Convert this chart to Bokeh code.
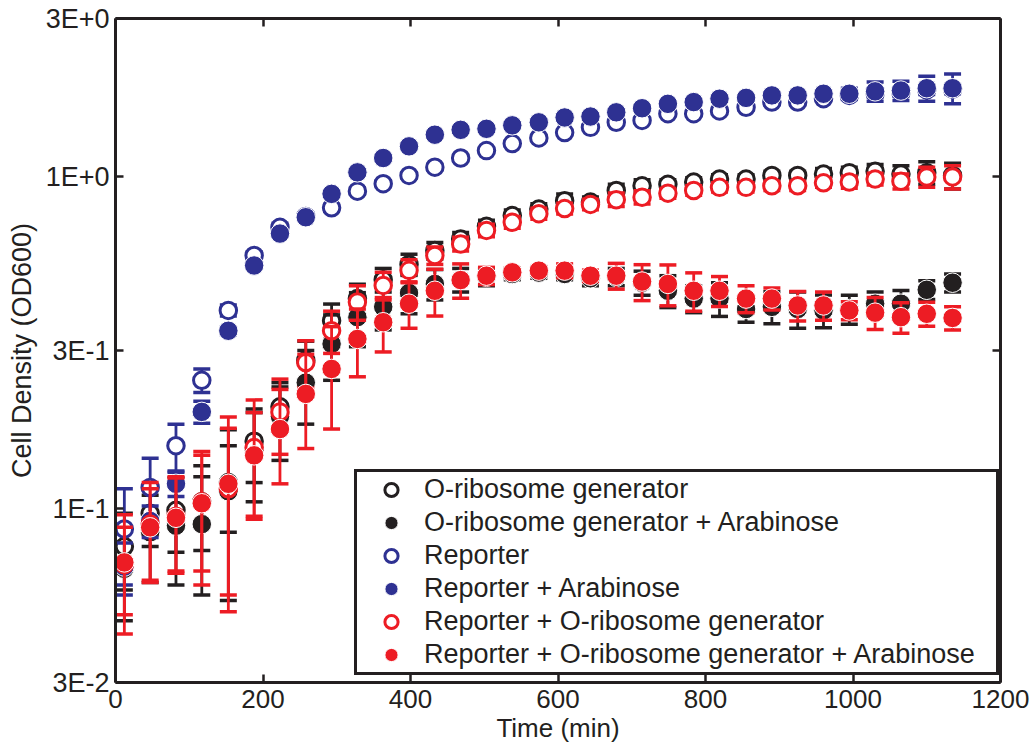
from bokeh.plotting import figure
from bokeh.models import (ColumnDataSource, FixedTicker, LinearAxis, LogAxis,
                          Legend, LegendItem, CustomJSTickFormatter)
from bokeh.embed import file_html
from bokeh.resources import INLINE

# Sampling times (min)
time_min = [12, 47, 82, 117, 153, 188, 223, 258, 293, 328, 363, 398, 433, 468, 503,
            538, 574, 609, 644, 679, 714, 749, 784, 819, 855, 890, 925, 960, 995,
            1030, 1065, 1100, 1135]

# O-ribosome generator
ogen_mean = [0.077, 0.097, 0.099, 0.105, 0.12, 0.16, 0.203, 0.28, 0.369, 0.43, 0.49,
             0.545, 0.60, 0.65, 0.71, 0.765, 0.80, 0.848, 0.84, 0.91, 0.94, 0.95,
             0.965, 0.985, 0.985, 1.01, 1.01, 1.02, 1.03, 1.04, 1.02, 1.03, 1.01]
ogen_sd = [0.02, 0.02, 0.025, 0.03, 0.035, 0.04, 0.03, 0.04, 0.045, 0.045, 0.04, 0.04,
           0.035, 0.03, 0.03, 0.03, 0.03, 0.04, 0.03, 0.04, 0.04, 0.03, 0.03, 0.03,
           0.03, 0.03, 0.03, 0.04, 0.04, 0.05, 0.06, 0.08, 0.09]

# O-ribosome generator + Arabinose
ogen_ara_mean = [0.066, 0.085, 0.089, 0.09, 0.113, 0.15, 0.19, 0.24, 0.314, 0.378, 0.406,
                 0.447, 0.476, 0.49, 0.50, 0.51, 0.515, 0.51, 0.495, 0.50, 0.48, 0.454,
                 0.43, 0.43, 0.40, 0.406, 0.40, 0.396, 0.40, 0.415, 0.415, 0.457, 0.48]
ogen_ara_sd = [0.02, 0.025, 0.03, 0.035, 0.06, 0.045, 0.05, 0.06, 0.07, 0.07, 0.06, 0.06,
               0.05, 0.04, 0.03, 0.02, 0.02, 0.02, 0.025, 0.03, 0.04, 0.05, 0.04, 0.05,
               0.035, 0.045, 0.05, 0.045, 0.04, 0.035, 0.04, 0.03, 0.03]

# Reporter
rep_mean = [0.087, 0.116, 0.155, 0.244, 0.396, 0.58, 0.705, 0.76, 0.807, 0.906, 0.954,
            1.01, 1.07, 1.14, 1.20, 1.26, 1.31, 1.36, 1.41, 1.46, 1.48, 1.55, 1.55,
            1.58, 1.62, 1.68, 1.68, 1.72, 1.76, 1.79, 1.80, 1.83, 1.84]
rep_sd = [0.028, 0.026, 0.025, 0.02, 0.015, 0.015, 0.02, 0.02, 0.02, 0.02, 0.02, 0.02,
          0.02, 0.02, 0.02, 0.02, 0.02, 0.02, 0.02, 0.02, 0.02, 0.02, 0.02, 0.02, 0.03,
          0.03, 0.03, 0.03, 0.04, 0.05, 0.05, 0.06, 0.06]

# Reporter + Arabinose
rep_ara_mean = [0.067, 0.092, 0.119, 0.196, 0.344, 0.541, 0.675, 0.756, 0.889, 1.032,
                1.14, 1.236, 1.34, 1.386, 1.396, 1.43, 1.46, 1.51, 1.52, 1.565, 1.61,
                1.66, 1.68, 1.72, 1.73, 1.76, 1.76, 1.78, 1.78, 1.81, 1.82, 1.85, 1.85]
rep_ara_sd = [0.012, 0.01, 0.01, 0.015, 0.01, 0.01, 0.01, 0.01, 0.02, 0.02, 0.02, 0.02,
              0.02, 0.02, 0.02, 0.02, 0.02, 0.02, 0.02, 0.02, 0.02, 0.02, 0.02, 0.02,
              0.03, 0.03, 0.03, 0.04, 0.07, 0.12, 0.12, 0.16, 0.19]

# Reporter + O-ribosome generator
rep_ogen_mean = [0.068, 0.09, 0.095, 0.105, 0.115, 0.153, 0.196, 0.276, 0.344, 0.42,
                 0.471, 0.523, 0.58, 0.628, 0.69, 0.73, 0.775, 0.803, 0.826, 0.854,
                 0.869, 0.893, 0.91, 0.93, 0.93, 0.94, 0.94, 0.96, 0.965, 0.985, 0.97,
                 1.0, 1.0]
rep_ogen_sd = [0.02, 0.03, 0.03, 0.04, 0.06, 0.06, 0.05, 0.045, 0.05, 0.05, 0.045, 0.04,
               0.035, 0.03, 0.03, 0.03, 0.03, 0.03, 0.03, 0.04, 0.04, 0.03, 0.03, 0.03,
               0.03, 0.03, 0.03, 0.03, 0.04, 0.04, 0.05, 0.07, 0.08]

# Reporter + O-ribosome generator + Arabinose
rep_ogen_ara_mean = [0.069, 0.088, 0.094, 0.104, 0.119, 0.145, 0.174, 0.222, 0.264,
                     0.325, 0.365, 0.415, 0.454, 0.489, 0.504, 0.516, 0.522, 0.522,
                     0.504, 0.504, 0.484, 0.476, 0.454, 0.454, 0.43, 0.43, 0.41, 0.41,
                     0.396, 0.39, 0.378, 0.387, 0.376]
rep_ogen_ara_sd = [0.027, 0.027, 0.03, 0.045, 0.07, 0.05, 0.055, 0.07, 0.09, 0.075,
                   0.068, 0.065, 0.073, 0.058, 0.03, 0.015, 0.015, 0.025, 0.02, 0.045,
                   0.06, 0.067, 0.06, 0.047, 0.04, 0.033, 0.042, 0.04, 0.025, 0.043,
                   0.04, 0.032, 0.03]

x_ticks = [0, 200, 400, 600, 800, 1000, 1200]
y_ticks = [0.03, 0.1, 0.3, 1, 3]
y_tick_labels = ["3E-2", "1E-1", "3E-1", "1E+0", "3E+0"]

BLACK = "#231f20"
BLUE = "#2e3192"
RED = "#ed1c24"
FONT = "Liberation Sans"

series = [
    ("O-ribosome generator", ogen_mean, ogen_sd, BLACK, False),
    ("O-ribosome generator + Arabinose", ogen_ara_mean, ogen_ara_sd, BLACK, True),
    ("Reporter", rep_mean, rep_sd, BLUE, False),
    ("Reporter + Arabinose", rep_ara_mean, rep_ara_sd, BLUE, True),
    ("Reporter + O-ribosome generator", rep_ogen_mean, rep_ogen_sd, RED, False),
    ("Reporter + O-ribosome generator + Arabinose", rep_ogen_ara_mean, rep_ogen_ara_sd, RED, True),
]

p = figure(width=1034, height=750, x_range=(0, 1200), y_range=(0.03, 3),
           y_axis_type="log", output_backend="svg", toolbar_location=None,
           min_border_left=115, min_border_right=34, min_border_top=18,
           min_border_bottom=68)
p.xgrid.visible = False
p.ygrid.visible = False
p.outline_line_color = None
p.background_fill_color = "white"

items = []
for label, mean, sd, color, filled in series:
    lo = [m - s for m, s in zip(mean, sd)]
    hi = [m + s for m, s in zip(mean, sd)]
    src = ColumnDataSource(dict(t=time_min, m=mean, lo=lo, hi=hi))
    p.segment(x0="t", y0="lo", x1="t", y1="hi", source=src,
              line_color=color, line_width=2.8)
    for end in ("lo", "hi"):
        p.scatter(x="t", y=end, source=src, marker="dash", size=17,
                  line_color=color, line_width=3.5)
    if filled:
        r = p.scatter(x="t", y="m", source=src, size=19.5, fill_color=color,
                      line_color="white", line_width=1)
    else:
        r = p.scatter(x="t", y="m", source=src, size=16.5, fill_color="white",
                      line_color=color, line_width=3)
    items.append(LegendItem(label=label, renderers=[r]))


def style_axis(ax, show_labels):
    ax.axis_line_width = 3
    ax.axis_line_color = BLACK
    ax.major_tick_in = 8
    ax.major_tick_out = 0
    ax.major_tick_line_width = 2.5
    ax.major_tick_line_color = BLACK
    ax.minor_tick_line_color = None
    ax.major_label_text_font = FONT
    ax.major_label_text_color = BLACK
    if show_labels:
        ax.major_label_text_font_size = "26px"
    else:
        ax.major_label_text_font_size = "0px"
        ax.major_label_standoff = 0


xax = p.xaxis[0]
xax.ticker = FixedTicker(ticks=x_ticks)
style_axis(xax, True)
xax.major_label_standoff = 7
xax.axis_label = "Time (min)"
xax.axis_label_standoff = 2

yax = p.yaxis[0]
yax.ticker = FixedTicker(ticks=y_ticks)
yax.formatter = CustomJSTickFormatter(
    args=dict(y_vals=y_ticks, y_names=y_tick_labels),
    code="""
    for (let i = 0; i < y_vals.length; i++) {
        if (Math.abs(y_vals[i] - tick) < 1e-9 * Math.max(1, y_vals[i])) return y_names[i];
    }
    return '';
""")
style_axis(yax, True)
yax.major_label_text_font_size = "27px"
yax.major_label_standoff = 6
yax.axis_label = "Cell Density (OD600)"
yax.axis_label_standoff = 6

for ax in (xax, yax):
    ax.axis_label_text_font = FONT
    ax.axis_label_text_font_style = "normal"
    ax.axis_label_text_color = BLACK
xax.axis_label_text_font_size = "26px"
yax.axis_label_text_font_size = "27px"

blank = "return '';"
top = LinearAxis(ticker=FixedTicker(ticks=x_ticks),
                 formatter=CustomJSTickFormatter(code=blank))
style_axis(top, False)
p.add_layout(top, "above")

right = LogAxis(ticker=FixedTicker(ticks=y_ticks),
                formatter=CustomJSTickFormatter(code=blank))
style_axis(right, False)
p.add_layout(right, "right")

legend = Legend(items=items, location=(239, 7))
legend.label_text_font = FONT
legend.label_text_font_size = "27px"
legend.label_text_line_height = 1.0
legend.label_text_color = BLACK
legend.border_line_color = BLACK
legend.border_line_alpha = 1
legend.border_line_width = 3
legend.background_fill_color = "white"
legend.background_fill_alpha = 1
legend.padding = 1
legend.spacing = 0
legend.glyph_width = 66
legend.glyph_height = 33
legend.label_height = 33
legend.label_standoff = 0
legend.label_width = 571
legend.margin = 0
p.add_layout(legend)

open("out.html", "w").write(file_html(p, INLINE))
